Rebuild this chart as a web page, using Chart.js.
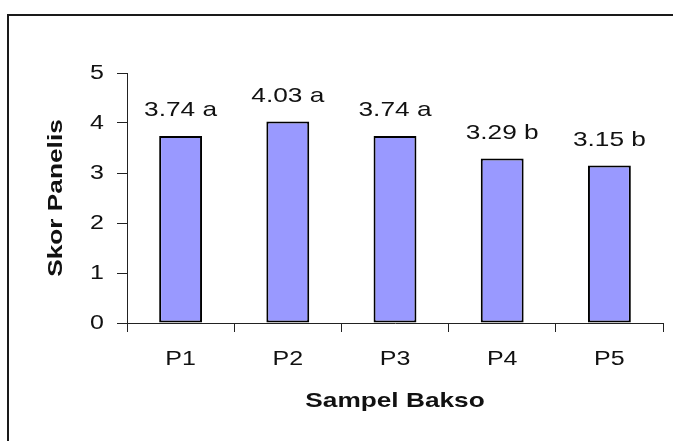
<!DOCTYPE html>
<html lang="en">
    <head>
        <title>Skor Panelis</title>
        <meta charset="UTF-8">
        <style>
            html, body {
                margin: 0;
                padding: 0;
                background: #fff;
                overflow: hidden;
            }
            .frame {
                position: absolute;
                left: 7px;
                top: 14px;
                width: 700px;
                height: 500px;
                border-left: 2px solid #1a1a1a;
                border-top: 2px solid #1a1a1a;
            }
            .chart-container {
                position: absolute;
                left: 0;
                top: 0;
                width: 673px;
                height: 441px;
            }
        </style>
    </head>

    <body>
        <div class="frame"></div>
        <div class="chart-container"><canvas id="skorChart"></canvas></div>

        <script src="https://cdn.jsdelivr.net/npm/chart.js@4.4.1/dist/chart.umd.min.js"></script>
        <script>
            const samples = ["P1", "P2", "P3", "P4", "P5"];
            const scores = [3.74, 4.03, 3.74, 3.29, 3.15];
            const notation = ["a", "a", "a", "b", "b"];
            const yTicks = [0, 1, 2, 3, 4, 5];

            const FONT = "'Liberation Sans', Arial, sans-serif";
            // the original text is drawn wider than normal Arial, stretch it along its baseline
            const STRETCH = 1.25;

            const canvas = document.getElementById("skorChart");
            const ctx = canvas.getContext("2d");
            const plainFillText = CanvasRenderingContext2D.prototype.fillText;
            ctx.fillText = function (text, x, y) {
                this.save();
                this.translate(x, y);
                this.scale(STRETCH, 1);
                plainFillText.call(this, text, 0, 0);
                this.restore();
            };

            // value + letter above each bar
            const barLabels = {
                id: "barLabels",
                afterDatasetsDraw(chart) {
                    const c = chart.ctx;
                    const meta = chart.getDatasetMeta(0);
                    c.save();
                    c.font = "21px " + FONT;
                    c.fillStyle = "#111";
                    c.textAlign = "center";
                    c.textBaseline = "alphabetic";
                    meta.data.forEach((bar, i) => {
                        c.fillText(scores[i].toFixed(2) + " " + notation[i], bar.x, bar.y - 20);
                    });
                    c.restore();
                }
            };

            new Chart(canvas, {
                type: "bar",
                data: {
                    labels: samples,
                    datasets: [
                        {
                            data: scores,
                            backgroundColor: "#9999ff",
                            borderColor: "#000",
                            borderWidth: 2,
                            borderSkipped: false,
                            categoryPercentage: 0.4,
                            barPercentage: 1
                        }
                    ]
                },
                options: {
                    responsive: true,
                    maintainAspectRatio: false,
                    animation: false,
                    layout: {
                        padding: {left: 0, top: 73, right: 10, bottom: 0}
                    },
                    plugins: {
                        legend: {display: false},
                        tooltip: {enabled: false}
                    },
                    scales: {
                        x: {
                            grid: {
                                offset: true,
                                drawOnChartArea: false,
                                tickLength: 9,
                                color: "#222"
                            },
                            border: {color: "#222", width: 1},
                            ticks: {
                                color: "#111",
                                font: {family: FONT, size: 20},
                                padding: 15
                            },
                            title: {
                                display: true,
                                text: "Sampel Bakso",
                                color: "#111",
                                font: {family: FONT, size: 21, weight: "bold"},
                                padding: {top: 0, bottom: 27}
                            },
                            afterFit(scale) {
                                scale.height = 118;
                            }
                        },
                        y: {
                            min: 0,
                            max: 5,
                            afterBuildTicks(scale) {
                                scale.ticks = yTicks.map(v => ({value: v}));
                            },
                            grid: {
                                drawOnChartArea: false,
                                tickLength: 10,
                                color: "#222"
                            },
                            border: {color: "#222", width: 1},
                            ticks: {
                                color: "#111",
                                font: {family: FONT, size: 20},
                                padding: 13
                            },
                            title: {
                                display: true,
                                text: "Skor Panelis",
                                color: "#111",
                                font: {family: FONT, size: 21, weight: "bold"},
                                padding: {top: 44, bottom: 0}
                            },
                            afterFit(scale) {
                                scale.width = 127;
                            }
                        }
                    }
                },
                plugins: [barLabels]
            });
        </script>
    </body>
</html>
